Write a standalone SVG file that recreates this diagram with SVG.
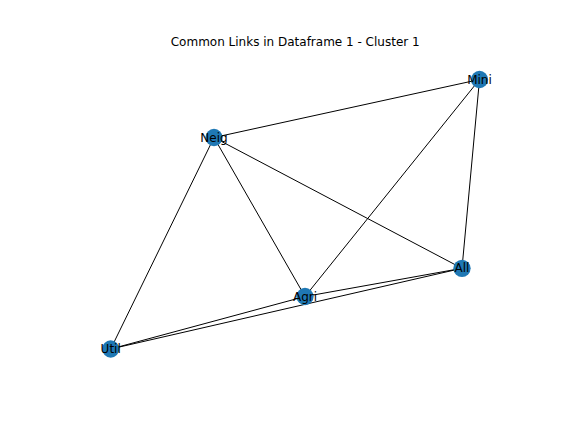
<svg xmlns="http://www.w3.org/2000/svg" width="576" height="432" viewBox="0 0 576 432">
  <style>
    .edge { stroke: #000; stroke-width: 1; fill: none; }
    .node circle { fill: #1f78b4; }
    .node text { font-family: "DejaVu Sans", sans-serif; font-size: 12px; fill: #000; text-anchor: middle; dominant-baseline: central; }
    .title { font-family: "DejaVu Sans", sans-serif; font-size: 12px; fill: #000; text-anchor: middle; }
  </style>
  <rect width="576" height="432" fill="#fff"/>
  <text class="title" x="295.2" y="45.8">Common Links in Dataframe 1 - Cluster 1</text>
  <g id="edges">
    <line class="edge" x1="214" y1="137.5" x2="479.5" y2="79.5"/>
    <line class="edge" x1="214" y1="137.5" x2="110.7" y2="349"/>
    <line class="edge" x1="214" y1="137.5" x2="305" y2="296.5"/>
    <line class="edge" x1="214" y1="137.5" x2="462" y2="268.3"/>
    <line class="edge" x1="479.5" y1="79.5" x2="305" y2="296.5"/>
    <line class="edge" x1="479.5" y1="79.5" x2="462" y2="268.3"/>
    <line class="edge" x1="462" y1="268.3" x2="305" y2="296.5"/>
    <line class="edge" x1="462" y1="268.3" x2="110.7" y2="349"/>
    <line class="edge" x1="305" y1="296.5" x2="110.7" y2="349"/>
  </g>
  <g id="node-mini" class="node">
    <circle cx="479.5" cy="79.5" r="8.66"/>
    <text x="479.5" y="79.5">Mini</text>
  </g>
  <g id="node-neig" class="node">
    <circle cx="214" cy="137.5" r="8.66"/>
    <text x="214" y="137.5">Neig</text>
  </g>
  <g id="node-all" class="node">
    <circle cx="462" cy="268.3" r="8.66"/>
    <text x="462" y="268.3">All</text>
  </g>
  <g id="node-agri" class="node">
    <circle cx="305" cy="296.5" r="8.66"/>
    <text x="305" y="296.5">Agri</text>
  </g>
  <g id="node-util" class="node">
    <circle cx="110.7" cy="349" r="8.66"/>
    <text x="110.7" y="349">Util</text>
  </g>
</svg>
